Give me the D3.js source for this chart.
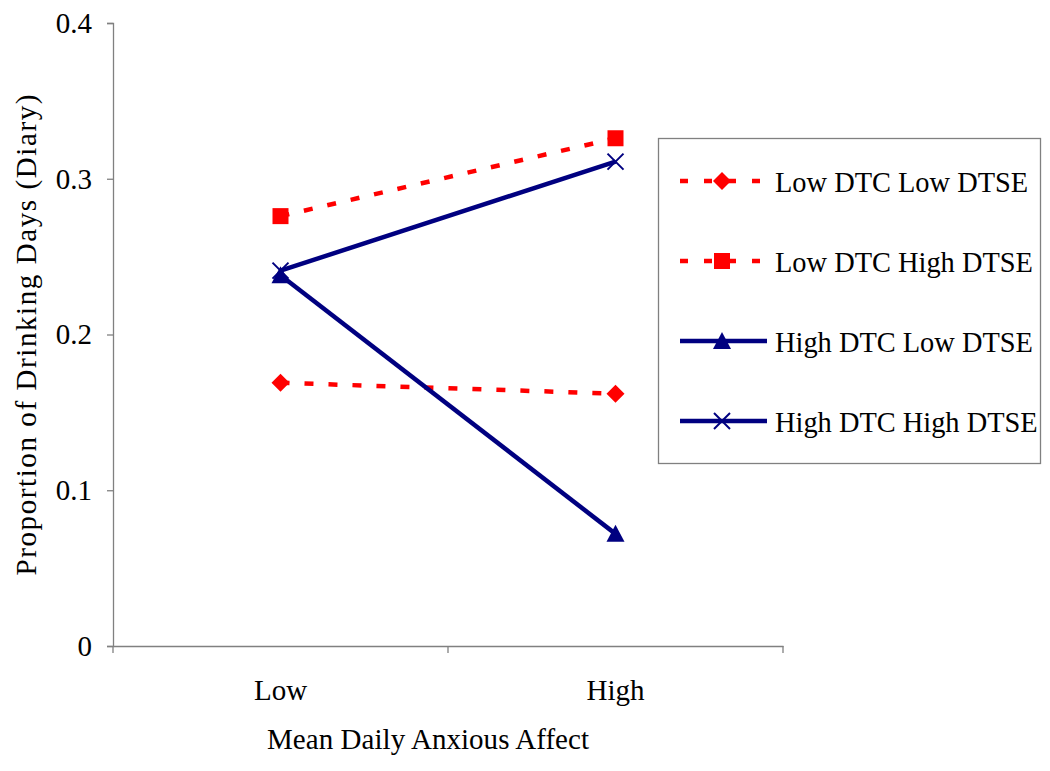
<!DOCTYPE html>
<html><head><meta charset="utf-8">
<script src="https://cdn.jsdelivr.net/npm/d3@7"></script>
<style>body{margin:0;background:#fff}svg{display:block}</style>
</head><body><svg id="c" width="1050" height="771"></svg>
<script>
const categories = ["Low", "High"];
const seriesNames = ["Low DTC Low DTSE", "Low DTC High DTSE", "High DTC Low DTSE", "High DTC High DTSE"];
const lowDtcLowDtse = [0.169, 0.162];
const lowDtcHighDtse = [0.276, 0.326];
const highDtcLowDtse = [0.238, 0.072];
const highDtcHighDtse = [0.241, 0.311];
const yTicks = [0, 0.1, 0.2, 0.3, 0.4];

const seriesValues = [lowDtcLowDtse, lowDtcHighDtse, highDtcLowDtse, highDtcHighDtse];
const styles = [
  {color:"#ff0000", dash:"9,15", marker:"diamond"},
  {color:"#ff0000", dash:"9,15", marker:"square"},
  {color:"#000080", dash:null, marker:"triangle"},
  {color:"#000080", dash:null, marker:"x"}
];
const FONT = "Liberation Serif";
const FS = "29px";

const svg = d3.select("#c");
const L = 113, R = 783, T = 23, B = 646;
const x = d3.scaleBand().domain(categories).range([L, R]);
const y = d3.scaleLinear().domain([0, 0.4]).range([B, T]);
const axisColor = "#808080";

const yAxis = svg.append("g").attr("transform", `translate(${L},0)`)
  .call(d3.axisLeft(y).tickValues(yTicks).tickFormat(d => d === 0 ? "0" : d3.format(".1f")(d)).tickSize(6).tickPadding(15));
yAxis.attr("font-family", FONT).attr("font-size", FS);
yAxis.select(".domain").attr("stroke", axisColor).attr("stroke-width", 1.3);
yAxis.selectAll(".tick line").attr("stroke", axisColor).attr("stroke-width", 1.3);
yAxis.selectAll("text").attr("fill", "#000");

const xAxis = svg.append("g").attr("transform", `translate(0,${B})`)
  .call(d3.axisBottom(x).tickSize(0).tickPadding(33));
xAxis.attr("font-family", FONT).attr("font-size", FS);
xAxis.select(".domain").attr("stroke", axisColor).attr("stroke-width", 1.3);
xAxis.selectAll("text").attr("fill", "#000");
const bounds = [L].concat(categories.map(c => x(c) + x.bandwidth()));
svg.append("g").selectAll("line").data(bounds).join("line")
  .attr("x1", d => d).attr("x2", d => d).attr("y1", B).attr("y2", B + 7)
  .attr("stroke", axisColor).attr("stroke-width", 1.3);

svg.append("text").attr("transform", `translate(36,335) rotate(-90)`)
  .attr("text-anchor", "middle").attr("font-family", FONT).attr("font-size", FS)
  .attr("textLength", 481).attr("lengthAdjust", "spacing").text("Proportion of Drinking Days (Diary)");
svg.append("text").attr("x", 428).attr("y", 749).attr("text-anchor", "middle")
  .attr("font-family", FONT).attr("font-size", FS)
  .attr("textLength", 322).attr("lengthAdjust", "spacing").text("Mean Daily Anxious Affect");

function diamondPath(cx, cy, r) { return `M${cx},${cy-r}L${cx+r},${cy}L${cx},${cy+r}L${cx-r},${cy}Z`; }
function drawMarker(g, type, cx, cy, color) {
  if (type === "diamond") {
    g.append("path").attr("d", diamondPath(cx, cy, 9)).attr("fill", color);
  } else if (type === "square") {
    g.append("rect").attr("x", cx - 8).attr("y", cy - 8).attr("width", 16).attr("height", 16).attr("fill", color);
  } else if (type === "triangle") {
    g.append("path").attr("d", `M${cx},${cy-9}L${cx+9},${cy+8}L${cx-9},${cy+8}Z`).attr("fill", color);
  } else if (type === "x") {
    g.append("path").attr("d", `M${cx-8},${cy-8}L${cx+8},${cy+8}M${cx-8},${cy+8}L${cx+8},${cy-8}`).attr("stroke", color).attr("stroke-width", 2).attr("fill", "none");
  }
}

const line = d3.line().x((d, i) => x(categories[i]) + x.bandwidth()/2).y(d => y(d));
const plot = svg.append("g");
seriesValues.forEach((vals, si) => {
  const s = styles[si];
  plot.append("path").datum(vals).attr("d", line).attr("fill", "none")
    .attr("stroke", s.color).attr("stroke-width", 4.5).attr("stroke-dasharray", s.dash);
});
seriesValues.forEach((vals, si) => {
  const s = styles[si];
  vals.forEach((v, i) => {
    drawMarker(plot, s.marker, x(categories[i]) + x.bandwidth()/2, y(v), s.color);
  });
});

const lg = svg.append("g");
lg.append("rect").attr("x", 658.5).attr("y", 138.5).attr("width", 382).attr("height", 325)
  .attr("fill", "#fff").attr("stroke", axisColor).attr("stroke-width", 1.3);
seriesNames.forEach((name, i) => {
  const s = styles[i];
  const cy = 181 + i * 80;
  lg.append("line").attr("x1", 680).attr("x2", s.dash ? 762 : 767).attr("y1", cy).attr("y2", cy)
    .attr("stroke", s.color).attr("stroke-width", 4.5).attr("stroke-dasharray", s.dash ? "8,16" : null);
  drawMarker(lg, s.marker, 722, cy, s.color);
  lg.append("text").attr("x", 775).attr("y", cy + 11).attr("font-family", FONT).attr("font-size", "28.4px").text(name);
});
</script></body></html>
